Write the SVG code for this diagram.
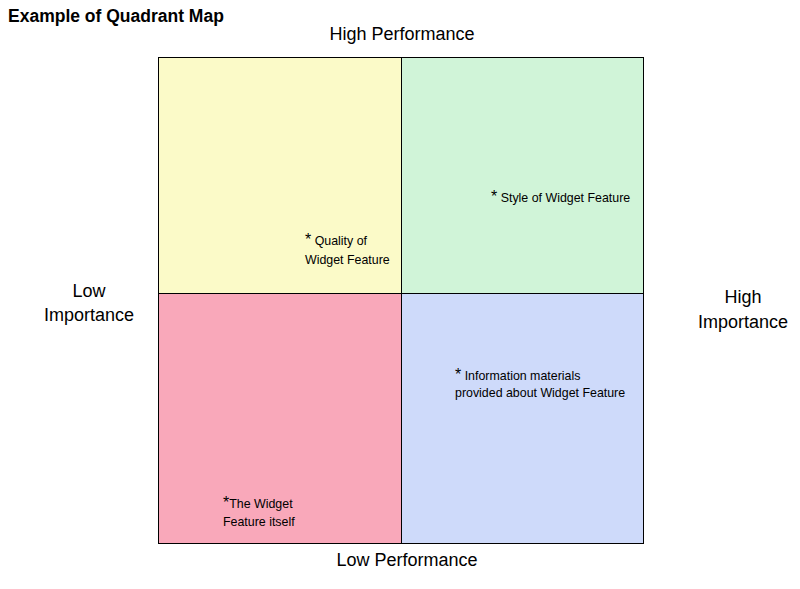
<svg xmlns="http://www.w3.org/2000/svg" width="800" height="589" viewBox="0 0 800 589">
<style>
text{font-family:"Liberation Sans",Arial,sans-serif;fill:#000}
.title{font-size:17.5px;font-weight:bold}
.axis{font-size:18px}
.lbl{font-size:12.4px}
.ast{font-size:16px}
.q{stroke:#000;stroke-width:1}
</style>
<rect width="800" height="589" fill="#fff"/>
<text class="title" x="8" y="22">Example of Quadrant Map</text>
<g id="axis-labels">
<text class="axis" x="402" y="40" text-anchor="middle">High Performance</text>
<text class="axis" x="407" y="566" text-anchor="middle">Low Performance</text>
<text class="axis" x="89" y="297" text-anchor="middle">Low</text>
<text class="axis" x="89" y="321" text-anchor="middle">Importance</text>
<text class="axis" x="743" y="303" text-anchor="middle">High</text>
<text class="axis" x="743" y="328" text-anchor="middle">Importance</text>
</g>
<g id="q-top-left">
<rect class="q" x="158.5" y="57.5" width="243" height="236" fill="#FBFAC8"/>
<text class="lbl" x="305" y="245"><tspan class="ast">*</tspan> Quality of</text>
<text class="lbl" x="305" y="264">Widget Feature</text>
</g>
<g id="q-top-right">
<rect class="q" x="401.5" y="57.5" width="242" height="236" fill="#D0F4D8"/>
<text class="lbl" x="491" y="202"><tspan class="ast">*</tspan> Style of Widget Feature</text>
</g>
<g id="q-bottom-left">
<rect class="q" x="158.5" y="293.5" width="243" height="250" fill="#F9A8BA"/>
<text class="lbl" x="223" y="508"><tspan class="ast">*</tspan>The Widget</text>
<text class="lbl" x="223" y="526">Feature itself</text>
</g>
<g id="q-bottom-right">
<rect class="q" x="401.5" y="293.5" width="242" height="250" fill="#CEDAFA"/>
<text class="lbl" x="455" y="380"><tspan class="ast">*</tspan> Information materials</text>
<text class="lbl" x="455" y="397">provided about Widget Feature</text>
</g>
</svg>
